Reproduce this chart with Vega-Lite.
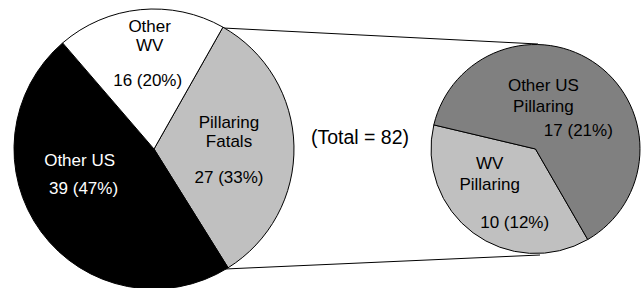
{
  "$schema": "https://vega.github.io/schema/vega-lite/v6.json",
  "width": 642,
  "height": 288,
  "autosize": {"type": "fit", "contains": "padding"},
  "padding": {"top": 10, "left": 0, "right": 0, "bottom": 0},
  "background": "white",
  "config": {"view": {"stroke": null}, "font": "Liberation Sans"},
  "datasets": {
    "slices": [
      {"pie": "All fatalities", "segment": "Pillaring Fatals", "name": "Pillaring\nFatals", "label": "27 (33%)", "value": 27, "ord": 1},
      {"pie": "All fatalities", "segment": "Other US", "name": "Other US", "label": "39 (47%)", "value": 39, "ord": 2},
      {"pie": "All fatalities", "segment": "Other WV", "name": "Other\nWV", "label": "16 (20%)", "value": 16, "ord": 3},
      {"pie": "Pillaring fatals", "segment": "WV Pillaring", "name": "WV\nPillaring", "label": "10 (12%)", "value": 10, "ord": 1},
      {"pie": "Pillaring fatals", "segment": "Other US Pillaring", "name": "Other US\nPillaring", "label": "17 (21%)", "value": 17, "ord": 2}
    ],
    "connectors": [
      {"x0": 223, "y0": 28, "x1": 538, "y1": 44},
      {"x0": 225, "y0": 269, "x1": 540, "y1": 255}
    ],
    "notes": [
      {"label": "(Total = 82)", "x": 360, "y": 137.5}
    ]
  },
  "resolve": {"scale": {"x": "independent", "y": "independent", "theta": "independent"}},
  "layer": [
    {
      "data": {"name": "connectors"},
      "mark": {"type": "rule", "color": "black", "strokeWidth": 1},
      "encoding": {
        "x": {"field": "x0", "type": "quantitative", "scale": {"domain": [0, 642], "nice": false, "zero": false}, "axis": null},
        "y": {"field": "y0", "type": "quantitative", "scale": {"domain": [10, 288], "reverse": true, "nice": false, "zero": false}, "axis": null},
        "x2": {"field": "x1"},
        "y2": {"field": "y1"}
      }
    },
    {
      "data": {"name": "slices"},
      "transform": [{"filter": "datum.pie === 'All fatalities'"}],
      "encoding": {
        "x": {"field": "pie", "type": "nominal", "scale": {"type": "point", "domain": ["All fatalities", "Pillaring fatals"], "range": [154, 535.5], "padding": 0}, "axis": null},
        "theta": {"field": "value", "type": "quantitative", "stack": true, "scale": {"range": [0.5149, 6.7981]}},
        "order": {"field": "ord", "type": "quantitative"}
      },
      "layer": [
        {
          "mark": {"type": "arc", "outerRadius": 140, "stroke": "black", "strokeWidth": 1},
          "encoding": {
            "color": {"field": "segment", "type": "nominal", "legend": null,
              "scale": {"domain": ["Pillaring Fatals", "Other US", "Other WV", "WV Pillaring", "Other US Pillaring"], "range": ["#c0c0c0", "#000000", "#ffffff", "#c0c0c0", "#808080"]}}
          }
        },
        {
          "mark": {"type": "text", "radius": 75, "dx": 0, "dy": -24.5, "fontSize": 17, "lineBreak": "\n", "lineHeight": 19, "color": "black", "align": "center", "baseline": "middle"},
          "encoding": {"text": {"condition": {"test": "datum.segment === 'Pillaring Fatals'", "field": "name"}, "value": ""}}
        },
        {
          "mark": {"type": "text", "radius": 75, "dx": 0, "dy": 31, "fontSize": 17, "color": "black", "align": "center", "baseline": "middle"},
          "encoding": {"text": {"condition": {"test": "datum.segment === 'Pillaring Fatals'", "field": "label"}, "value": ""}}
        },
        {
          "mark": {"type": "text", "radius": 75, "dx": -14, "dy": -32, "fontSize": 17, "color": "white", "align": "center", "baseline": "middle"},
          "encoding": {"text": {"condition": {"test": "datum.segment === 'Other US'", "field": "name"}, "value": ""}}
        },
        {
          "mark": {"type": "text", "radius": 75, "dx": -10, "dy": -4.5, "fontSize": 17, "color": "white", "align": "center", "baseline": "middle"},
          "encoding": {"text": {"condition": {"test": "datum.segment === 'Other US'", "field": "label"}, "value": ""}}
        },
        {
          "mark": {"type": "text", "radius": 75, "dx": 3, "dy": -47, "fontSize": 17, "lineBreak": "\n", "lineHeight": 18.5, "color": "black", "align": "center", "baseline": "middle"},
          "encoding": {"text": {"condition": {"test": "datum.segment === 'Other WV'", "field": "name"}, "value": ""}}
        },
        {
          "mark": {"type": "text", "radius": 75, "dx": 1, "dy": 6.5, "fontSize": 17, "color": "black", "align": "center", "baseline": "middle"},
          "encoding": {"text": {"condition": {"test": "datum.segment === 'Other WV'", "field": "label"}, "value": ""}}
        }
      ]
    },
    {
      "data": {"name": "slices"},
      "transform": [{"filter": "datum.pie === 'Pillaring fatals'"}],
      "encoding": {
        "x": {"field": "pie", "type": "nominal", "scale": {"type": "point", "domain": ["All fatalities", "Pillaring fatals"], "range": [154, 535.5], "padding": 0}, "axis": null},
        "theta": {"field": "value", "type": "quantitative", "stack": true, "scale": {"range": [2.618, 8.9012]}},
        "order": {"field": "ord", "type": "quantitative"}
      },
      "layer": [
        {
          "mark": {"type": "arc", "outerRadius": 104.5, "stroke": "black", "strokeWidth": 1},
          "encoding": {
            "color": {"field": "segment", "type": "nominal", "legend": null,
              "scale": {"domain": ["Pillaring Fatals", "Other US", "Other WV", "WV Pillaring", "Other US Pillaring"], "range": ["#c0c0c0", "#000000", "#ffffff", "#c0c0c0", "#808080"]}}
          }
        },
        {
          "mark": {"type": "text", "radius": 55, "dx": -13, "dy": -29, "fontSize": 17, "lineBreak": "\n", "lineHeight": 21, "color": "black", "align": "center", "baseline": "middle"},
          "encoding": {"text": {"condition": {"test": "datum.segment === 'WV Pillaring'", "field": "name"}, "value": ""}}
        },
        {
          "mark": {"type": "text", "radius": 55, "dx": 12, "dy": 30, "fontSize": 17, "color": "black", "align": "center", "baseline": "middle"},
          "encoding": {"text": {"condition": {"test": "datum.segment === 'WV Pillaring'", "field": "label"}, "value": ""}}
        },
        {
          "mark": {"type": "text", "radius": 55, "dx": -25, "dy": -18.5, "fontSize": 17, "lineBreak": "\n", "lineHeight": 21, "color": "black", "align": "center", "baseline": "middle"},
          "encoding": {"text": {"condition": {"test": "datum.segment === 'Other US Pillaring'", "field": "name"}, "value": ""}}
        },
        {
          "mark": {"type": "text", "radius": 55, "dx": 10, "dy": 26.5, "fontSize": 17, "color": "black", "align": "center", "baseline": "middle"},
          "encoding": {"text": {"condition": {"test": "datum.segment === 'Other US Pillaring'", "field": "label"}, "value": ""}}
        }
      ]
    },
    {
      "data": {"name": "notes"},
      "mark": {"type": "text", "fontSize": 19.5, "color": "black", "align": "center", "baseline": "middle"},
      "encoding": {
        "x": {"field": "x", "type": "quantitative", "scale": {"domain": [0, 642], "nice": false, "zero": false}, "axis": null},
        "y": {"field": "y", "type": "quantitative", "scale": {"domain": [10, 288], "reverse": true, "nice": false, "zero": false}, "axis": null},
        "text": {"field": "label"}
      }
    }
  ]
}
